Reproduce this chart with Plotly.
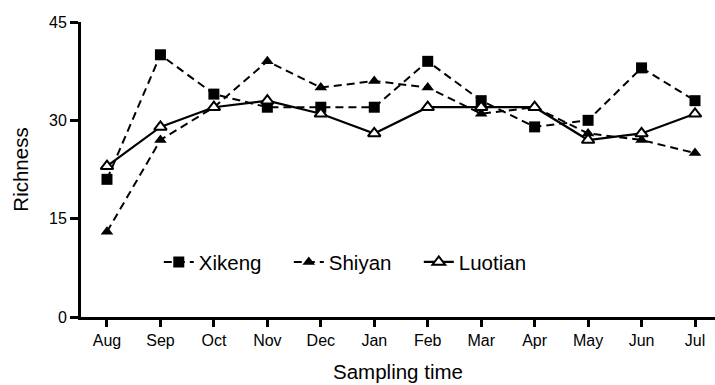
import plotly.graph_objects as go

months = ["Aug", "Sep", "Oct", "Nov", "Dec", "Jan", "Feb", "Mar", "Apr", "May", "Jun", "Jul"]
xikeng = [21, 40, 34, 32, 32, 32, 39, 33, 29, 30, 38, 33]
shiyan = [13, 27, 32, 39, 35, 36, 35, 31, 32, 28, 27, 25]
luotian = [23, 29, 32, 33, 31, 28, 32, 32, 32, 27, 28, 31]
yticks = [0, 15, 30, 45]

xi = list(range(len(months)))
fig = go.Figure()
fig.add_trace(go.Scatter(x=xi, y=xikeng, name="Xikeng", mode="lines+markers",
                         line=dict(color="black", width=2, dash="8px,5px"),
                         marker=dict(symbol="square", size=11, color="black")))
fig.add_trace(go.Scatter(x=xi, y=shiyan, name="Shiyan", mode="lines+markers",
                         line=dict(color="black", width=2, dash="8px,5px"),
                         marker=dict(symbol="triangle-up", size=11, color="black")))
fig.add_trace(go.Scatter(x=xi, y=luotian, name="Luotian", mode="lines+markers",
                         line=dict(color="black", width=2.2),
                         marker=dict(symbol="triangle-up", size=11, color="white",
                                     line=dict(color="black", width=2))))

fig.update_layout(
    width=715, height=385,
    margin=dict(l=81, r=0, t=22, b=68),
    plot_bgcolor="white", paper_bgcolor="white",
    font=dict(family="Liberation Sans, Arial, sans-serif", color="black", size=16),
    showlegend=True,
    legend=dict(orientation="h", x=0.1227, y=0.186, xanchor="left", yanchor="middle",
                font=dict(size=20.5), bgcolor="rgba(0,0,0,0)", itemwidth=30,
                entrywidth=85, entrywidthmode="pixels",
                traceorder="normal"),
    xaxis=dict(range=[-0.486, 11.374], tickmode="array", tickvals=xi, ticktext=months,
               showline=True, linecolor="black", linewidth=3, ticks="outside",
               ticklen=7, tickwidth=3, tickcolor="black", showgrid=False, zeroline=False,
               tickfont=dict(size=16),
               title=dict(text="Sampling time", font=dict(size=20.5), standoff=17)),
    yaxis=dict(range=[0, 45], tickmode="array", tickvals=yticks,
               showline=True, linecolor="black", linewidth=3, ticks="outside",
               ticklen=8, tickwidth=3, tickcolor="black", showgrid=False, zeroline=False,
               tickfont=dict(size=16),
               title=dict(text="Richness", font=dict(size=20.5), standoff=15)),
)
fig.write_html("out.html")
